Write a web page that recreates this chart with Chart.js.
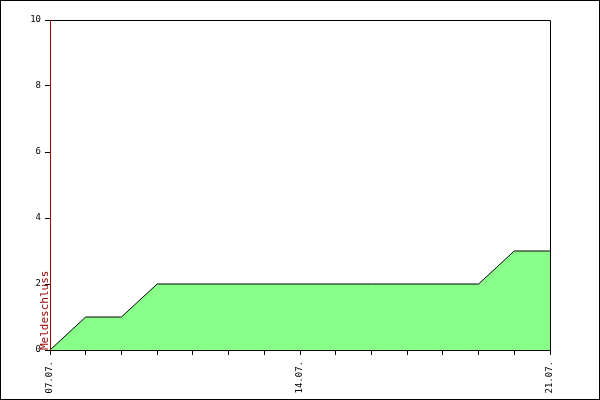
<!DOCTYPE html>
<html>
<head>
<meta charset="utf-8">
<script src="https://cdn.jsdelivr.net/npm/chart.js@4"></script>
<style>
  html, body { margin:0; padding:0; background:#fff; }
  canvas { display:block; }
</style>
</head>
<body>
<canvas id="chart" width="600" height="400"></canvas>
<script>
// dates on the x axis
const tage = ["07.07.","08.07.","09.07.","10.07.","11.07.","12.07.","13.07.","14.07.",
              "15.07.","16.07.","17.07.","18.07.","19.07.","20.07.","21.07."];
// cumulative entries
const anmeldungen = [0,1,1,2,2,2,2,2,2,2,2,2,2,3,3];
// only these dates get a label
const beschriftet = ["07.07.","14.07.","21.07."];
const yTicks = [0,2,4,6,8,10];
const meldeschluss = "07.07.";

const rot = "#990000";
const mono = "'DejaVu Sans Mono', 'Liberation Mono', monospace";

const rahmen = {
  id: "rahmen",
  beforeDraw(chart){
    const c = chart.ctx;
    c.save();
    c.fillStyle = "#fff";
    c.fillRect(0,0,chart.width,chart.height);
    c.strokeStyle = "#000";
    c.lineWidth = 1;
    c.strokeRect(0.5,0.5,chart.width-1,chart.height-1);
    c.restore();
  },
  afterDatasetsDraw(chart){
    const c = chart.ctx;
    const a = chart.chartArea;
    const x = chart.scales.x.getPixelForValue(tage.indexOf(meldeschluss));
    c.save();
    c.strokeStyle = "#000";
    c.lineWidth = 1;
    c.beginPath();
    c.moveTo(a.left, a.top+0.5);
    c.lineTo(a.right+0.5, a.top+0.5);
    c.lineTo(a.right+0.5, a.bottom);
    c.stroke();

    c.strokeStyle = rot;
    c.beginPath();
    c.moveTo(Math.round(x)+0.5, a.top);
    c.lineTo(Math.round(x)+0.5, a.bottom);
    c.stroke();

    // label of the deadline, rotated along the line
    c.translate(x+0.5, a.bottom);
    c.rotate(-Math.PI/2);
    c.fillStyle = rot;
    c.font = "11px " + mono;
    c.textAlign = "left";
    c.textBaseline = "bottom";
    c.fillText("Meldeschluss", 0, 0);
    c.restore();
  }
};

new Chart(document.getElementById("chart"), {
  type: "line",
  data: {
    labels: tage,
    datasets: [{
      data: anmeldungen,
      borderColor: "#000",
      borderWidth: 1,
      backgroundColor: "#88ff88",
      fill: "origin",
      tension: 0,
      pointRadius: 0
    }]
  },
  options: {
    responsive: false,
    animation: false,
    layout: { padding: { top: 20, right: 50, left: 0, bottom: 0 } },
    plugins: { legend: { display:false }, tooltip: { enabled:false } },
    scales: {
      x: {
        offset: false,
        grid: { drawOnChartArea:false, color:"#000", tickLength:5 },
        border: { color:"#000" },
        afterFit(s){ s.height = 50; },
        ticks: {
          autoSkip: false,
          minRotation: 90,
          maxRotation: 90,
          padding: 6,
          color: "#000",
          font: { family: mono, size: 9 },
          callback(v){ const t = tage[v]; return beschriftet.includes(t) ? t : ""; }
        }
      },
      y: {
        min: 0,
        max: 10,
        afterFit(s){ s.width = 50; },
        afterBuildTicks(s){ s.ticks = yTicks.map(v => ({value:v})); },
        grid: { drawOnChartArea:false, color:"#000", tickLength:5 },
        border: { color: rot },
        ticks: {
          padding: 4,
          color: "#000",
          font: { family: mono, size: 9 }
        }
      }
    }
  },
  plugins: [rahmen]
});
</script>
</body>
</html>
